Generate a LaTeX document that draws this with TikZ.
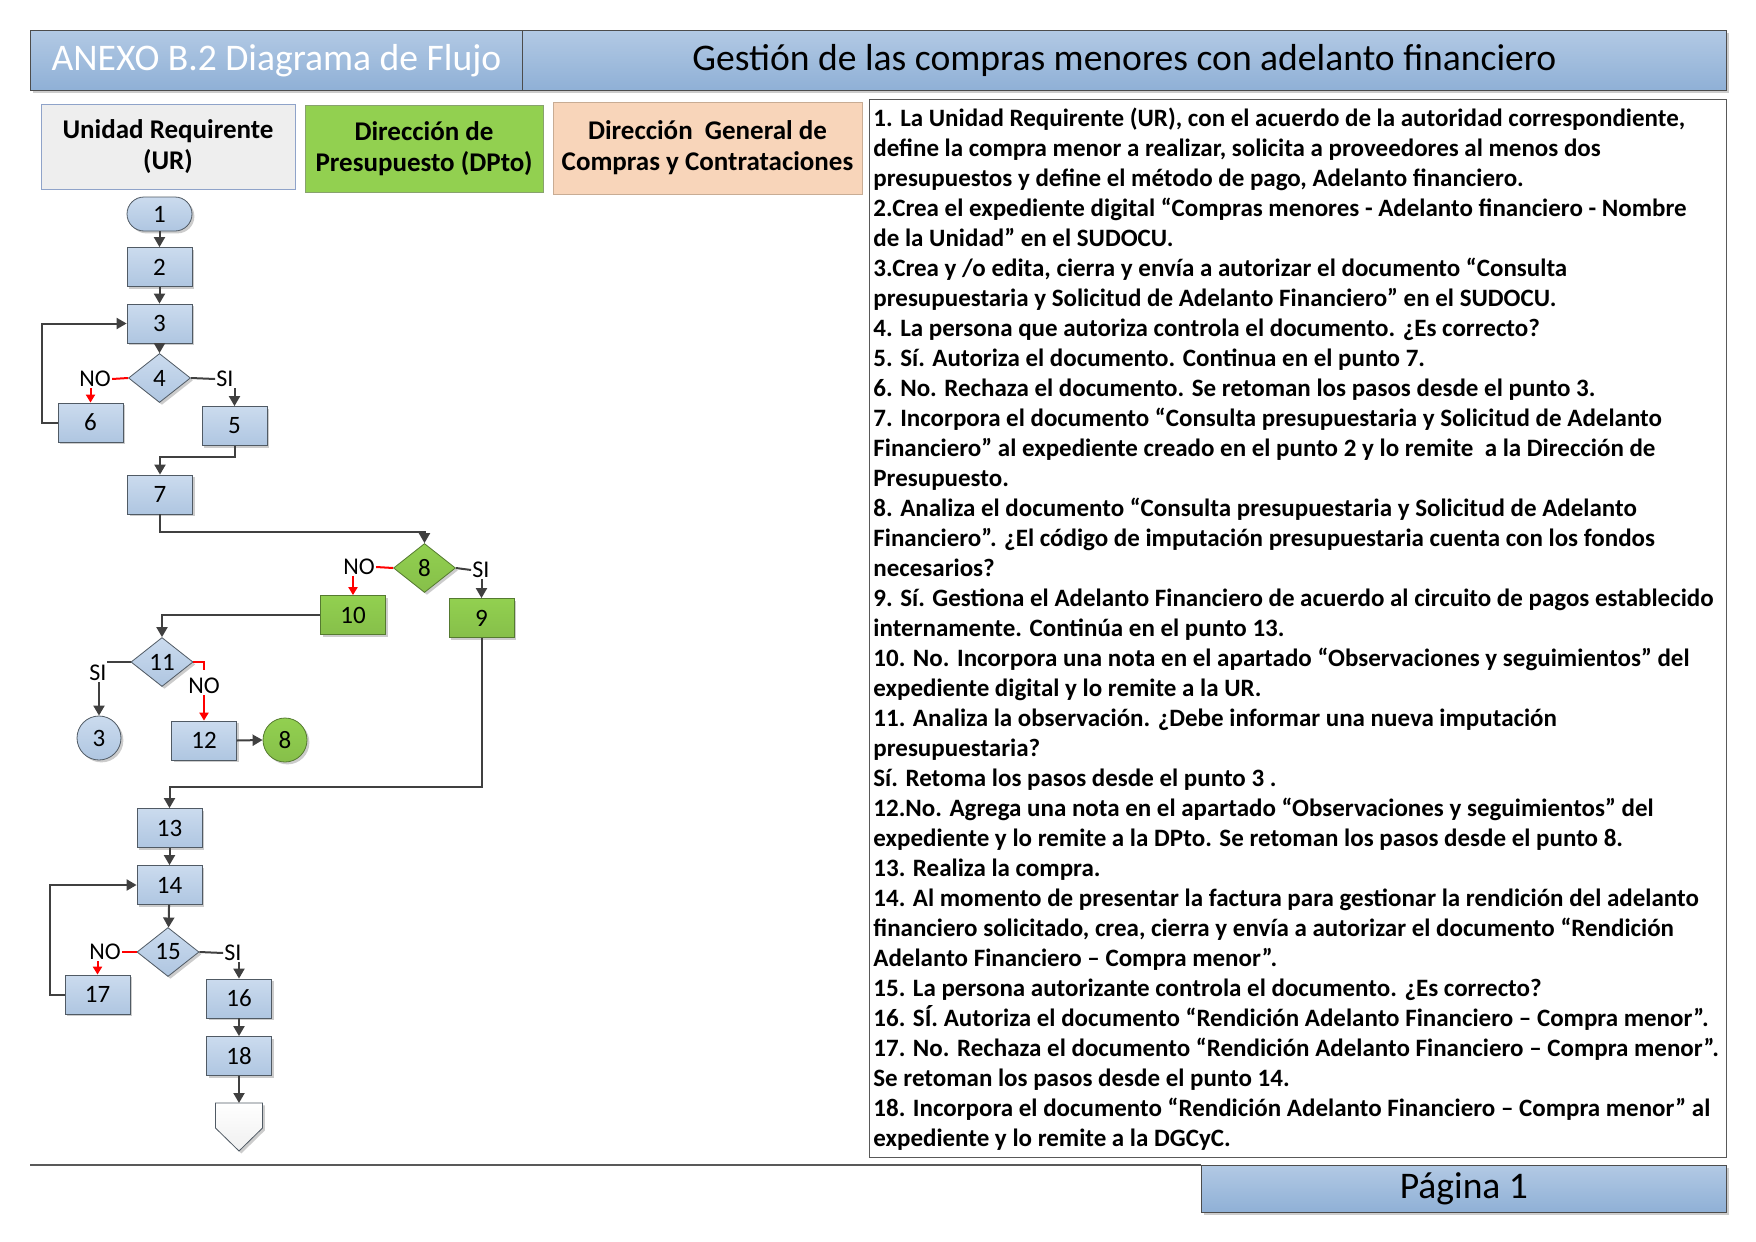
\documentclass[tikz,border=0pt]{standalone}
\usepackage{fontspec}
\setmainfont{Carlito}
\usetikzlibrary{arrows.meta,shapes.geometric,shadows}
\definecolor{bandaazul}{HTML}{8FB0D6}
\definecolor{bandaclaro}{HTML}{B2C9E4}
\definecolor{cajaarriba}{HTML}{CBDBEE}
\definecolor{cajaabajo}{HTML}{AFC6E1}
\definecolor{cajaborde}{HTML}{505A64}
\definecolor{dpverde}{HTML}{92D050}
\definecolor{dpborde}{HTML}{557A30}
\definecolor{dgmelon}{HTML}{F8D5BA}
\definecolor{dgborde}{HTML}{C8AC94}
\definecolor{urgris}{HTML}{EEEEEE}
\definecolor{urborde}{HTML}{8FA3C9}
\definecolor{flechagris}{HTML}{404040}
\definecolor{norojo}{HTML}{FF0000}

\begin{document}
\begin{tikzpicture}[x=0.5pt,y=-0.5pt,
    sombra/.style={drop shadow={shadow xshift=1.2pt,shadow yshift=-1.2pt,opacity=0.2,fill=black}},
    banda/.style={draw=gray!60!black,top color=bandaclaro,bottom color=bandaazul,inner sep=0pt,
      font=\fontsize{18.8}{22}\selectfont,sombra},
    carril/.style={align=center,inner sep=0pt,font=\fontsize{13.5}{15.5}\selectfont\bfseries},
    caja/.style={draw=cajaborde,top color=cajaarriba,bottom color=cajaabajo,minimum width=32.5pt,
      minimum height=19.5pt,inner sep=0pt,font=\fontsize{12.5}{14}\selectfont,sombra},
    verde/.style={top color=dpverde,bottom color=dpverde!92!black,draw=dpborde},
    rombo/.style={caja,diamond,minimum width=31pt,minimum height=24.5pt},
    terminal/.style={caja,rounded corners=8.5pt,minimum height=17pt},
    circulo/.style={caja,circle,minimum size=22pt},
    etiqueta/.style={inner sep=0.5pt,font=\fontsize{12}{14}\selectfont},
    linea/.style={draw=flechagris,line width=1pt},
    flecha/.style={linea,-{Triangle[length=5pt,width=5.5pt]}},
    rojo/.style={draw=norojo,line width=1pt},
    rojoflecha/.style={rojo,-{Triangle[length=4pt,width=4.5pt]}}]
  \useasboundingbox (0,0) rectangle (1756,1242);

  % encabezado
  \node[banda,anchor=north west,minimum width=246pt,minimum height=30pt,text=white] (anexo) at (30,30) {ANEXO B.2 Diagrama de Flujo};
  \node[banda,anchor=north west,minimum width=602pt,minimum height=30pt] (titulo) at (522,30) {Gestión de las compras menores con adelanto financiero};

  % carriles
  \node[carril,fill=urgris,draw=urborde,minimum width=127pt,minimum height=42.5pt] (ur) at (168,146.5) {Unidad Requirente\\(UR)};
  \node[carril,fill=dpverde,draw=dpborde!70,minimum width=119pt,minimum height=43.5pt] (dpto) at (424,149) {Dirección de\\Presupuesto (DPto)};
  \node[carril,fill=dgmelon,draw=dgborde,minimum width=154.5pt,minimum height=46pt] (dgcyc) at (707.5,148) {Dirección\ \ General de\\Compras y Contrataciones};

  % pasos
  \node[terminal] (p1) at (159.5,214) {1};
  \node[caja] (p2) at (159.5,267) {2};
  \node[caja] (p3) at (159.5,323.5) {3};
  \node[rombo] (p4) at (159.5,378) {4};
  \node[caja] (p6) at (90.5,422.5) {6};
  \node[caja] (p5) at (234.5,426) {5};
  \node[caja] (p7) at (160,494.5) {7};
  \node[rombo,verde] (p8) at (424.5,568) {8};
  \node[caja,verde] (p10) at (353,615) {10};
  \node[caja,verde] (p9) at (481.5,618) {9};
  \node[rombo] (p11) at (162,662) {11};
  \node[circulo] (c3) at (99,738) {3};
  \node[caja] (p12) at (204,740.5) {12};
  \node[circulo,verde] (c8) at (285,740) {8};
  \node[caja] (p13) at (169.5,828) {13};
  \node[caja] (p14) at (169.5,885) {14};
  \node[rombo] (p15) at (168,952) {15};
  \node[caja] (p17) at (97.5,994.5) {17};
  \node[caja] (p16) at (239,998.5) {16};
  \node[caja] (p18) at (239,1056) {18};
  \coordinate (fin) at (239,1103);
  \draw[draw=cajaborde,top color=white,bottom color=gray!12,sombra] (fin) -- ++(23.5,0) -- ++(0,25) -- ++(-23.5,23) -- ++(-23.5,-23) -- ++(0,-25) -- cycle;

  % etiquetas
  \node[etiqueta] (no4) at (95,379) {NO};
  \node[etiqueta] (si4) at (225,379) {SI};
  \node[etiqueta] (no8) at (359,567) {NO};
  \node[etiqueta] (si8) at (481,570) {SI};
  \node[etiqueta] (si11) at (98,673) {SI};
  \node[etiqueta] (no11) at (204,686) {NO};
  \node[etiqueta] (no15) at (105,952) {NO};
  \node[etiqueta] (si15) at (233,953) {SI};

  % conectores
  \draw[flecha] (p1) -- (p2);
  \draw[flecha] (p2) -- (p3);
  \draw[flecha] (p3) -- (p4);
  \draw[rojo] (p4.west) -- (no4.east);
  \draw[rojoflecha] (p6.north |- no4.south) -- (p6.north);
  \draw[linea] (p4.east) -- (si4.west);
  \draw[flecha] (p5.north |- si4.south) -- (p5.north);
  \draw[flecha] (p6.west) -- ++(-16,0) |- (p3.west);
  \draw[flecha] (p5.south) -- ++(0,11) -| (p7.north);
  \draw[flecha] (p7.south) -- ++(0,18) -| (p8.north);
  \draw[rojo] (p8.west) -- (no8.east);
  \draw[rojoflecha] (p10.north |- no8.south) -- (p10.north);
  \draw[linea] (p8.east) -- (si8.west);
  \draw[flecha] (p9.north |- si8.south) -- (p9.north);
  \draw[flecha] (p10.west) -| (p11.north);
  \draw[linea] (p11.west) -- ++(-24,0);
  \draw[flecha] (c3.north |- si11.south) -- (c3.north);
  \draw[rojo] (p11.east) -- ++(11,0) -- ++(0,8);
  \draw[rojoflecha] (no11.south) -- (p12.north);
  \draw[flecha] (p12.east) -- (c8.west);
  \draw[flecha] (p9.south) -- ++(0,149) -| (p13.north);
  \draw[flecha] (p13) -- (p14);
  \draw[flecha] (p14) -- (p15);
  \draw[rojo] (p15.west) -- (no15.east);
  \draw[rojoflecha] (p17.north |- no15.south) -- (p17.north);
  \draw[linea] (p15.east) -- (si15.west);
  \draw[flecha] (p16.north |- si15.south) -- (p16.north);
  \draw[flecha] (p17.west) -- ++(-15,0) |- (p14.west);
  \draw[flecha] (p16) -- (p18);
  \draw[flecha] (p18) -- (fin);

  % descripcion
  \node[draw=gray!70!black,anchor=north west,minimum width=428.5pt,minimum height=529pt,inner sep=0pt] (marco) at (869,99) {};
  \node[anchor=north west,align=left,inner sep=0pt,font=\fontsize{12.5}{15}\selectfont\bfseries] (lista) at (873,108) {%
    1. La Unidad Requirente (UR), con el acuerdo de la autoridad correspondiente,\\
    define la compra menor a realizar, solicita a proveedores al menos dos\\
    presupuestos y define el método de pago, Adelanto financiero.\\
    2.Crea el expediente digital “Compras menores - Adelanto financiero - Nombre\\
    de la Unidad” en el SUDOCU.\\
    3.Crea y /o edita, cierra y envía a autorizar el documento “Consulta\\
    presupuestaria y Solicitud de Adelanto Financiero” en el SUDOCU.\\
    4. La persona que autoriza controla el documento. ¿Es correcto?\\
    5. Sí. Autoriza el documento. Continua en el punto 7.\\
    6. No. Rechaza el documento. Se retoman los pasos desde el punto 3.\\
    7. Incorpora el documento “Consulta presupuestaria y Solicitud de Adelanto\\
    Financiero” al expediente creado en el punto 2 y lo remite\ \ a la Dirección de\\
    Presupuesto.\\
    8. Analiza el documento “Consulta presupuestaria y Solicitud de Adelanto\\
    Financiero”. ¿El código de imputación presupuestaria cuenta con los fondos\\
    necesarios?\\
    9. Sí. Gestiona el Adelanto Financiero de acuerdo al circuito de pagos establecido\\
    internamente. Continúa en el punto 13.\\
    10. No. Incorpora una nota en el apartado “Observaciones y seguimientos” del\\
    expediente digital y lo remite a la UR.\\
    11. Analiza la observación. ¿Debe informar una nueva imputación\\
    presupuestaria?\\
    Sí. Retoma los pasos desde el punto 3 .\\
    12.No. Agrega una nota en el apartado “Observaciones y seguimientos” del\\
    expediente y lo remite a la DPto. Se retoman los pasos desde el punto 8.\\
    13. Realiza la compra.\\
    14. Al momento de presentar la factura para gestionar la rendición del adelanto\\
    financiero solicitado, crea, cierra y envía a autorizar el documento “Rendición\\
    Adelanto Financiero – Compra menor”.\\
    15. La persona autorizante controla el documento. ¿Es correcto?\\
    16. SÍ. Autoriza el documento “Rendición Adelanto Financiero – Compra menor”.\\
    17. No. Rechaza el documento “Rendición Adelanto Financiero – Compra menor”.\\
    Se retoman los pasos desde el punto 14.\\
    18. Incorpora el documento “Rendición Adelanto Financiero – Compra menor” al\\
    expediente y lo remite a la DGCyC.};

  % pie
  \node[banda,anchor=north west,minimum width=262.5pt,minimum height=23.5pt] (pagina) at (1201,1165) {Página 1};
  \draw[gray!70!black,line width=0.8pt] (30,1165) -- (pagina.north west);
\end{tikzpicture}
\end{document}
